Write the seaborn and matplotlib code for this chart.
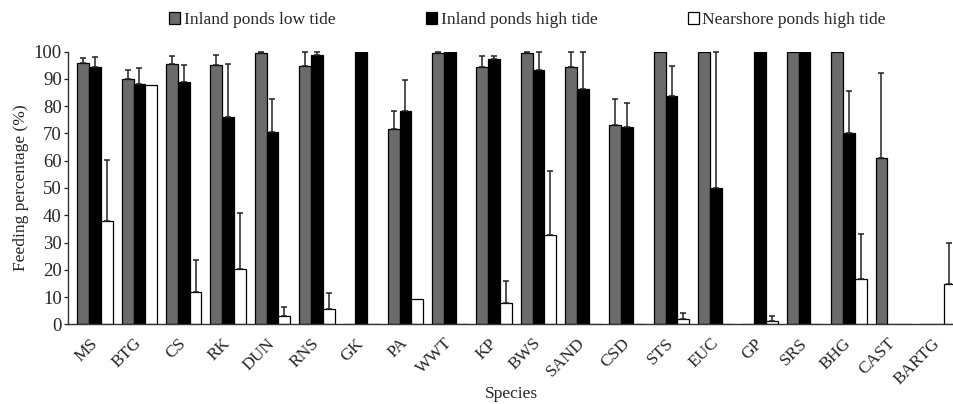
import numpy as np
import pandas as pd
import matplotlib
matplotlib.use("Agg")
import matplotlib.pyplot as plt
from matplotlib.patches import Patch
import seaborn as sns

# datos (porcentaje de alimentacion por especie)
species = ["MS", "BTG", "CS", "RK", "DUN", "RNS", "GK", "PA", "WWT", "KP",
           "BWS", "SAND", "CSD", "STS", "EUC", "GP", "SRS", "BHG", "CAST", "BARTG"]
groups = ["Inland ponds low tide", "Inland ponds high tide", "Nearshore ponds high tide"]

low_tide = [95.9, 90.1, 95.4, 95.1, 99.4, 94.6, 0, 71.7, 99.4, 94.3,
            99.6, 94.5, 73.2, 100, 100, 0, 100, 100, 61.1, 0]
low_err = [1.8, 3.0, 3.0, 3.8, 0.6, 5.4, 0, 6.7, 0.4, 4.0,
           0.4, 5.5, 9.6, 0, 0, 0, 0, 0, 30.9, 0]
high_tide = [94.3, 88.2, 88.8, 76.1, 70.4, 98.8, 100, 78.4, 100, 97.3,
             93.3, 86.2, 72.3, 83.6, 50.0, 100, 100, 70.0, 0, 0]
high_err = [3.9, 5.8, 6.3, 19.4, 12.4, 1.2, 0, 11.1, 0, 1.2,
            6.7, 13.8, 8.9, 11.0, 50.0, 0, 0, 15.7, 0, 0]
near_tide = [38.0, 87.9, 11.7, 20.3, 3.2, 5.6, 0, 9.1, 0, 7.9,
             32.7, 0, 0, 1.9, 0, 1.3, 0, 16.7, 0, 14.9]
near_err = [22.1, 0, 11.7, 20.5, 3.0, 5.7, 0, 0, 0, 8.1,
            23.5, 0, 0, 2.1, 0, 1.6, 0, 16.6, 0, 15.1]

colors = ["#6b6b6b", "#000000", "#ffffff"]

sns.set_style("white")
plt.rcParams["font.family"] = ["Liberation Serif", "DejaVu Serif"]

df = pd.DataFrame({
    "Species": species * 3,
    "Value": low_tide + high_tide + near_tide,
    "Group": [groups[0]] * len(species) + [groups[1]] * len(species) + [groups[2]] * len(species),
})
errs = [low_err, high_err, near_err]

fig = plt.figure(figsize=(9.54, 4.04), dpi=100)
ax = fig.add_axes([0.0713, 0.1973, 0.9287, 0.6748])

sns.barplot(data=df, x="Species", y="Value", hue="Group", hue_order=groups,
            palette=colors, width=0.8, errorbar=None, edgecolor="black",
            linewidth=0.9, legend=False, ax=ax)

# barras de error (solo hacia arriba)
for cont, err in zip(ax.containers, errs):
    for bar, e in zip(cont, err):
        if e > 0:
            xc = bar.get_x() + bar.get_width() / 2
            ax.errorbar(xc, bar.get_height(), yerr=[[0], [e]], fmt="none",
                        ecolor="#222222", elinewidth=1.1, capsize=2.5,
                        capthick=1.1, clip_on=False, zorder=3)

ax.set_xlim(-0.61, 19.37)
ax.set_ylim(0, 100)
ax.set_yticks(np.arange(0, 101, 10))
ax.set_ylabel("Feeding percentage (%)", fontsize=12.5, labelpad=3)
ax.set_xlabel("Species", fontsize=12.5)
ax.xaxis.set_label_coords(0.5, -0.225)

ax.tick_params(axis="y", length=3, width=0.9, pad=1.5, labelsize=13.5, left=True)
ax.tick_params(axis="x", length=0, pad=12, labelsize=12.5)
for lab in ax.get_xticklabels():
    lab.set_rotation(45)
    lab.set_ha("right")
    lab.set_va("center")
    lab.set_rotation_mode("anchor")

for s in ["top", "right"]:
    ax.spines[s].set_visible(False)
for s in ["left", "bottom"]:
    ax.spines[s].set_color("#333333")
    ax.spines[s].set_linewidth(1.0)

handles = [Patch(facecolor=c, edgecolor="black", linewidth=0.9) for c in colors]
fig.legend(handles, groups, loc="center", bbox_to_anchor=(0.553, 0.95), ncol=3,
           frameon=False, fontsize=12.5, handlelength=0.65, handleheight=0.65,
           handletextpad=0.2, columnspacing=5.2)

fig.savefig("out.png", dpi=100)
